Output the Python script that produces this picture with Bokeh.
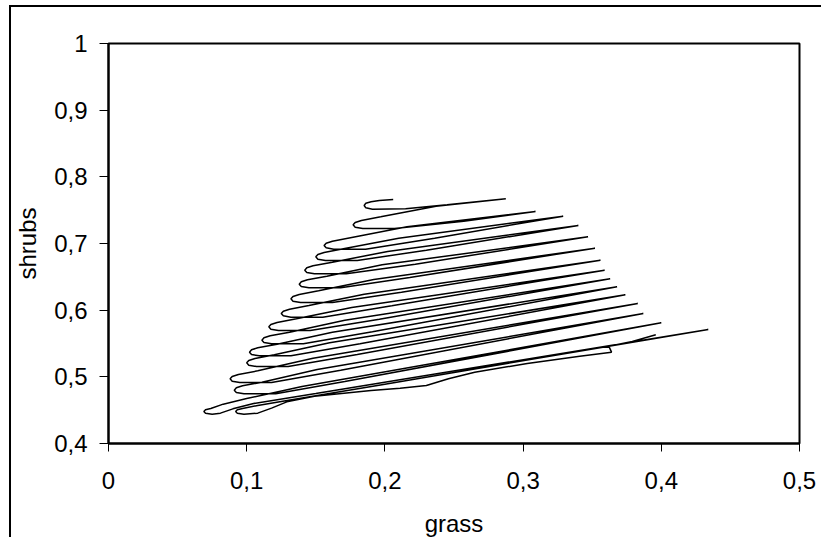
from bokeh.plotting import figure
from bokeh.models import Range1d, FixedTicker
from bokeh.embed import file_html
from bokeh.resources import INLINE

# Trajectory (grass, shrubs), ordered from the top end downwards
grass = [
    0.206, 0.196, 0.190, 0.1862, 0.185, 0.1862, 0.191, 0.215, 0.245,
    0.2875,
    0.237, 0.197, 0.183, 0.1785, 0.177, 0.1785, 0.184, 0.207, 0.257,
    0.309,
    0.216, 0.176, 0.162, 0.1575, 0.156, 0.1575, 0.163, 0.186, 0.236,
    0.329,
    0.210, 0.170, 0.156, 0.1515, 0.150, 0.1515, 0.157, 0.180, 0.230,
    0.340,
    0.202, 0.162, 0.148, 0.1435, 0.142, 0.1435, 0.149, 0.172, 0.222,
    0.347,
    0.198, 0.158, 0.144, 0.1395, 0.138, 0.1395, 0.145, 0.168, 0.218,
    0.352,
    0.192, 0.152, 0.138, 0.1335, 0.132, 0.1335, 0.139, 0.162, 0.212,
    0.356,
    0.185, 0.145, 0.131, 0.1265, 0.125, 0.1265, 0.132, 0.155, 0.205,
    0.359,
    0.176, 0.136, 0.122, 0.1175, 0.116, 0.1175, 0.123, 0.146, 0.196,
    0.363,
    0.171, 0.131, 0.117, 0.1125, 0.111, 0.1125, 0.118, 0.141, 0.191,
    0.368,
    0.162, 0.122, 0.108, 0.1035, 0.102, 0.1035, 0.109, 0.132, 0.182,
    0.374,
    0.160, 0.120, 0.106, 0.1015, 0.100, 0.1015, 0.107, 0.130, 0.180,
    0.383,
    0.148, 0.108, 0.094, 0.0895, 0.088, 0.0895, 0.095, 0.118, 0.168,
    0.387,
    0.151, 0.111, 0.097, 0.0925, 0.091, 0.0925, 0.098, 0.121, 0.171,
    0.400,
    0.140, 0.100, 0.083, 0.074, 0.0702, 0.069, 0.0702, 0.075, 0.081, 0.090, 0.105, 0.150,
    0.434,
    0.200, 0.125, 0.108, 0.097, 0.0932, 0.092, 0.0932, 0.098, 0.108,
    0.118, 0.129, 0.149, 0.190, 0.211, 0.230, 0.246, 0.265,
    0.303, 0.341, 0.364, 0.362, 0.379, 0.396,
]
shrubs = [
    0.766, 0.7645, 0.7625, 0.7605, 0.757, 0.7535, 0.7515, 0.752, 0.758,
    0.767,
    0.756, 0.740, 0.7345, 0.7315, 0.728, 0.7245, 0.7225, 0.7225, 0.7335,
    0.748,
    0.725, 0.709, 0.7035, 0.7005, 0.697, 0.6935, 0.6915, 0.6915, 0.708,
    0.741,
    0.708, 0.692, 0.6865, 0.6835, 0.680, 0.6765, 0.6745, 0.6745, 0.690,
    0.727,
    0.688, 0.672, 0.6665, 0.6635, 0.660, 0.6565, 0.6545, 0.6545, 0.669,
    0.710,
    0.668, 0.651, 0.6455, 0.6425, 0.639, 0.6355, 0.6335, 0.6335, 0.649,
    0.693,
    0.646, 0.629, 0.6235, 0.6205, 0.617, 0.6135, 0.6115, 0.6115, 0.627,
    0.675,
    0.624, 0.607, 0.6015, 0.5985, 0.595, 0.5915, 0.5895, 0.5895, 0.6065,
    0.660,
    0.604, 0.587, 0.5815, 0.5785, 0.575, 0.5715, 0.5695, 0.5695, 0.5865,
    0.647,
    0.585, 0.567, 0.5615, 0.5585, 0.555, 0.5515, 0.5495, 0.5495, 0.5675,
    0.635,
    0.567, 0.549, 0.5435, 0.5405, 0.537, 0.5335, 0.5315, 0.5315, 0.5495,
    0.623,
    0.551, 0.533, 0.5275, 0.5245, 0.521, 0.5175, 0.5155, 0.5155, 0.5335,
    0.610,
    0.528, 0.509, 0.5035, 0.5005, 0.497, 0.4935, 0.4915, 0.4915, 0.510,
    0.595,
    0.511, 0.492, 0.4865, 0.4835, 0.480, 0.4765, 0.4745, 0.4745, 0.493,
    0.581,
    0.4855, 0.4675, 0.459, 0.4525, 0.4505, 0.448, 0.4455, 0.444, 0.4455, 0.452, 0.460, 0.475,
    0.571,
    0.489, 0.463, 0.457, 0.4525, 0.4505, 0.448, 0.4455, 0.444, 0.4455,
    0.453, 0.4625, 0.471, 0.4795, 0.483, 0.487, 0.497, 0.507,
    0.520, 0.531, 0.537, 0.546, 0.553, 0.563,
]

x_ticks = [0, 0.1, 0.2, 0.3, 0.4, 0.5]
x_labels = ["0", "0,1", "0,2", "0,3", "0,4", "0,5"]
y_ticks = [0.4, 0.5, 0.6, 0.7, 0.8, 0.9, 1.0]
y_labels = ["0,4", "0,5", "0,6", "0,7", "0,8", "0,9", "1"]

FONT = "Liberation Sans"

p = figure(width=812, height=532, output_backend="svg", toolbar_location=None,
           x_range=Range1d(0, 0.5), y_range=Range1d(0.4, 1.0),
           min_border_left=97, min_border_right=24, min_border_top=36, min_border_bottom=96,
           x_axis_label="grass", y_axis_label="shrubs")
p.styles = {"border-left": "2px solid black", "border-top": "2px solid black",
            "margin-left": "9px", "margin-top": "5px"}

p.line(grass, shrubs, line_color="black", line_width=1.5)

p.xgrid.visible = False
p.ygrid.visible = False
p.outline_line_color = "black"
p.outline_line_width = 2
p.background_fill_color = "white"
p.border_fill_color = "white"

p.xaxis.ticker = FixedTicker(ticks=x_ticks)
p.yaxis.ticker = FixedTicker(ticks=y_ticks)
p.xaxis.major_label_overrides = dict(zip(x_ticks, x_labels))
p.yaxis.major_label_overrides = dict(zip(y_ticks, y_labels))

for ax in (p.xaxis, p.yaxis):
    ax.axis_line_color = "black"
    ax.axis_line_width = 2
    ax.major_tick_line_color = "black"
    ax.major_tick_line_width = 1
    ax.major_tick_in = 0
    ax.minor_tick_line_color = None
    ax.major_label_text_font = FONT
    ax.major_label_text_font_size = "24px"
    ax.major_label_text_color = "black"
    ax.axis_label_text_font = FONT
    ax.axis_label_text_font_size = "24px"
    ax.axis_label_text_font_style = "normal"
    ax.axis_label_text_color = "black"

p.xaxis.major_tick_out = 8
p.yaxis.major_tick_out = 9
p.xaxis.major_label_standoff = 20
p.yaxis.major_label_standoff = 12
p.xaxis.axis_label_standoff = 18
p.yaxis.axis_label_standoff = 10

open("out.html", "w").write(file_html(p, INLINE))
